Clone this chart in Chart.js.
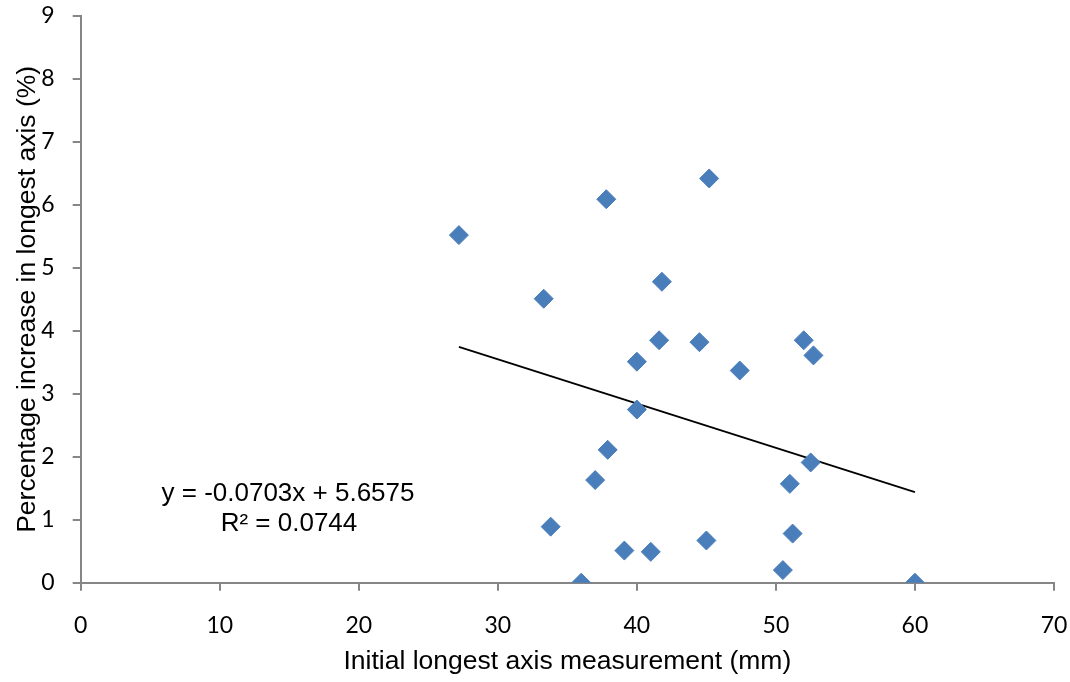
<!DOCTYPE html>
<html>
<head>
<meta charset="utf-8">
<script src="https://cdn.jsdelivr.net/npm/chart.js@4.4.1/dist/chart.umd.min.js"></script>
<style>
  html, body { margin: 0; padding: 0; background: #fff; }
  #wrap { width: 1070px; height: 682px; }
</style>
</head>
<body>
<div id="wrap"><canvas id="myChart" width="1070" height="682"></canvas></div>
<script>
// initial longest axis (mm) vs percentage increase (%)
const initialAxis = [27.2, 37.8, 45.2, 41.8, 33.3, 41.6, 44.5, 52.0, 52.7, 40.0, 47.4,
                     40.0, 37.9, 37.0, 52.5, 51.0, 33.8, 39.1, 41.0, 45.0, 51.2, 50.5, 36.0, 60.0];
const percentIncrease = [5.52, 6.09, 6.42, 4.78, 4.51, 3.85, 3.82, 3.85, 3.61, 3.51, 3.37,
                         2.75, 2.11, 1.63, 1.91, 1.57, 0.89, 0.51, 0.49, 0.67, 0.78, 0.20, 0.00, 0.00];

// linear trendline as printed on the chart
const slope = -0.0703;
const intercept = 5.6575;
const equationLines = ['y = -0.0703x + 5.6575', 'R\u00B2 = 0.0744'];

const xTicks = [0, 10, 20, 30, 40, 50, 60, 70];
const yTicks = [0, 1, 2, 3, 4, 5, 6, 7, 8, 9];

window.onload = function () {
    const points = initialAxis.map(function (x, i) {
        return { x: x, y: percentIncrease[i] };
    });
    const xMin = Math.min.apply(null, initialAxis);
    const xMax = Math.max.apply(null, initialAxis);
    const trend = [
        { x: xMin, y: slope * xMin + intercept },
        { x: xMax, y: slope * xMax + intercept }
    ];
    showChart(points, trend);
};

function noPad(scale) {
    scale.paddingLeft = 0;
    scale.paddingRight = 0;
    scale.paddingTop = 0;
    scale.paddingBottom = 0;
}

function showChart(points, trend) {
    const axisColor = '#868686';
    const tickFont = { family: 'Lato', size: 23 };
    const titleFont = { family: 'Liberation Sans', size: 26.5 };

    // draws the trendline equation text
    const equationLabel = {
        id: 'equationLabel',
        afterDraw(chart) {
            const ctx = chart.ctx;
            ctx.save();
            ctx.fillStyle = '#000';
            ctx.font = '26px "Liberation Sans"';
            ctx.textAlign = 'center';
            ctx.textBaseline = 'middle';
            ctx.fillText(equationLines[0], 288, 494);
            ctx.fillText(equationLines[1], 289, 524);
            ctx.restore();
        }
    };

    const ctx = document.getElementById('myChart');
    new Chart(ctx, {
        type: 'scatter',
        data: {
            datasets: [{
                label: 'Data',
                data: points,
                pointStyle: 'rectRot',
                pointRadius: 9.5,
                pointHoverRadius: 9.5,
                backgroundColor: '#4A7EBB',
                borderColor: '#4A7EBB',
                borderWidth: 1
            }, {
                label: 'Trend',
                type: 'line',
                data: trend,
                showLine: true,
                borderColor: '#000',
                borderWidth: 1.8,
                pointRadius: 0,
                fill: false
            }]
        },
        options: {
            responsive: false,
            animation: false,
            layout: { padding: { top: 16, right: 16, left: 0, bottom: 0 } },
            plugins: {
                legend: { display: false },
                tooltip: { enabled: false }
            },
            scales: {
                x: {
                    type: 'linear',
                    min: 0,
                    max: 70,
                    afterBuildTicks: function (scale) {
                        scale.ticks = xTicks.map(function (v) { return { value: v }; });
                    },
                    afterFit: function (scale) { scale.height = 99.3; noPad(scale); },
                    grid: { drawOnChartArea: false, drawTicks: true, tickLength: 8, color: axisColor, lineWidth: 2 },
                    border: { color: axisColor, width: 2 },
                    ticks: { color: '#000', font: tickFont, padding: 21, maxRotation: 0 },
                    title: {
                        display: true,
                        text: 'Initial longest axis measurement (mm)',
                        color: '#000',
                        font: titleFont,
                        padding: { top: 0, bottom: 4 }
                    }
                },
                y: {
                    type: 'linear',
                    min: 0,
                    max: 9,
                    afterBuildTicks: function (scale) {
                        scale.ticks = yTicks.map(function (v) { return { value: v }; });
                    },
                    afterFit: function (scale) { scale.width = 80.7; noPad(scale); },
                    grid: { drawOnChartArea: false, drawTicks: true, tickLength: 8, color: axisColor, lineWidth: 2 },
                    border: { color: axisColor, width: 2 },
                    ticks: { color: '#000', font: tickFont, padding: 18 },
                    title: {
                        display: true,
                        text: 'Percentage increase in longest axis (%)',
                        color: '#000',
                        font: titleFont,
                        padding: { top: 12, bottom: 0 }
                    }
                }
            }
        },
        plugins: [equationLabel]
    });
}
</script>
</body>
</html>
